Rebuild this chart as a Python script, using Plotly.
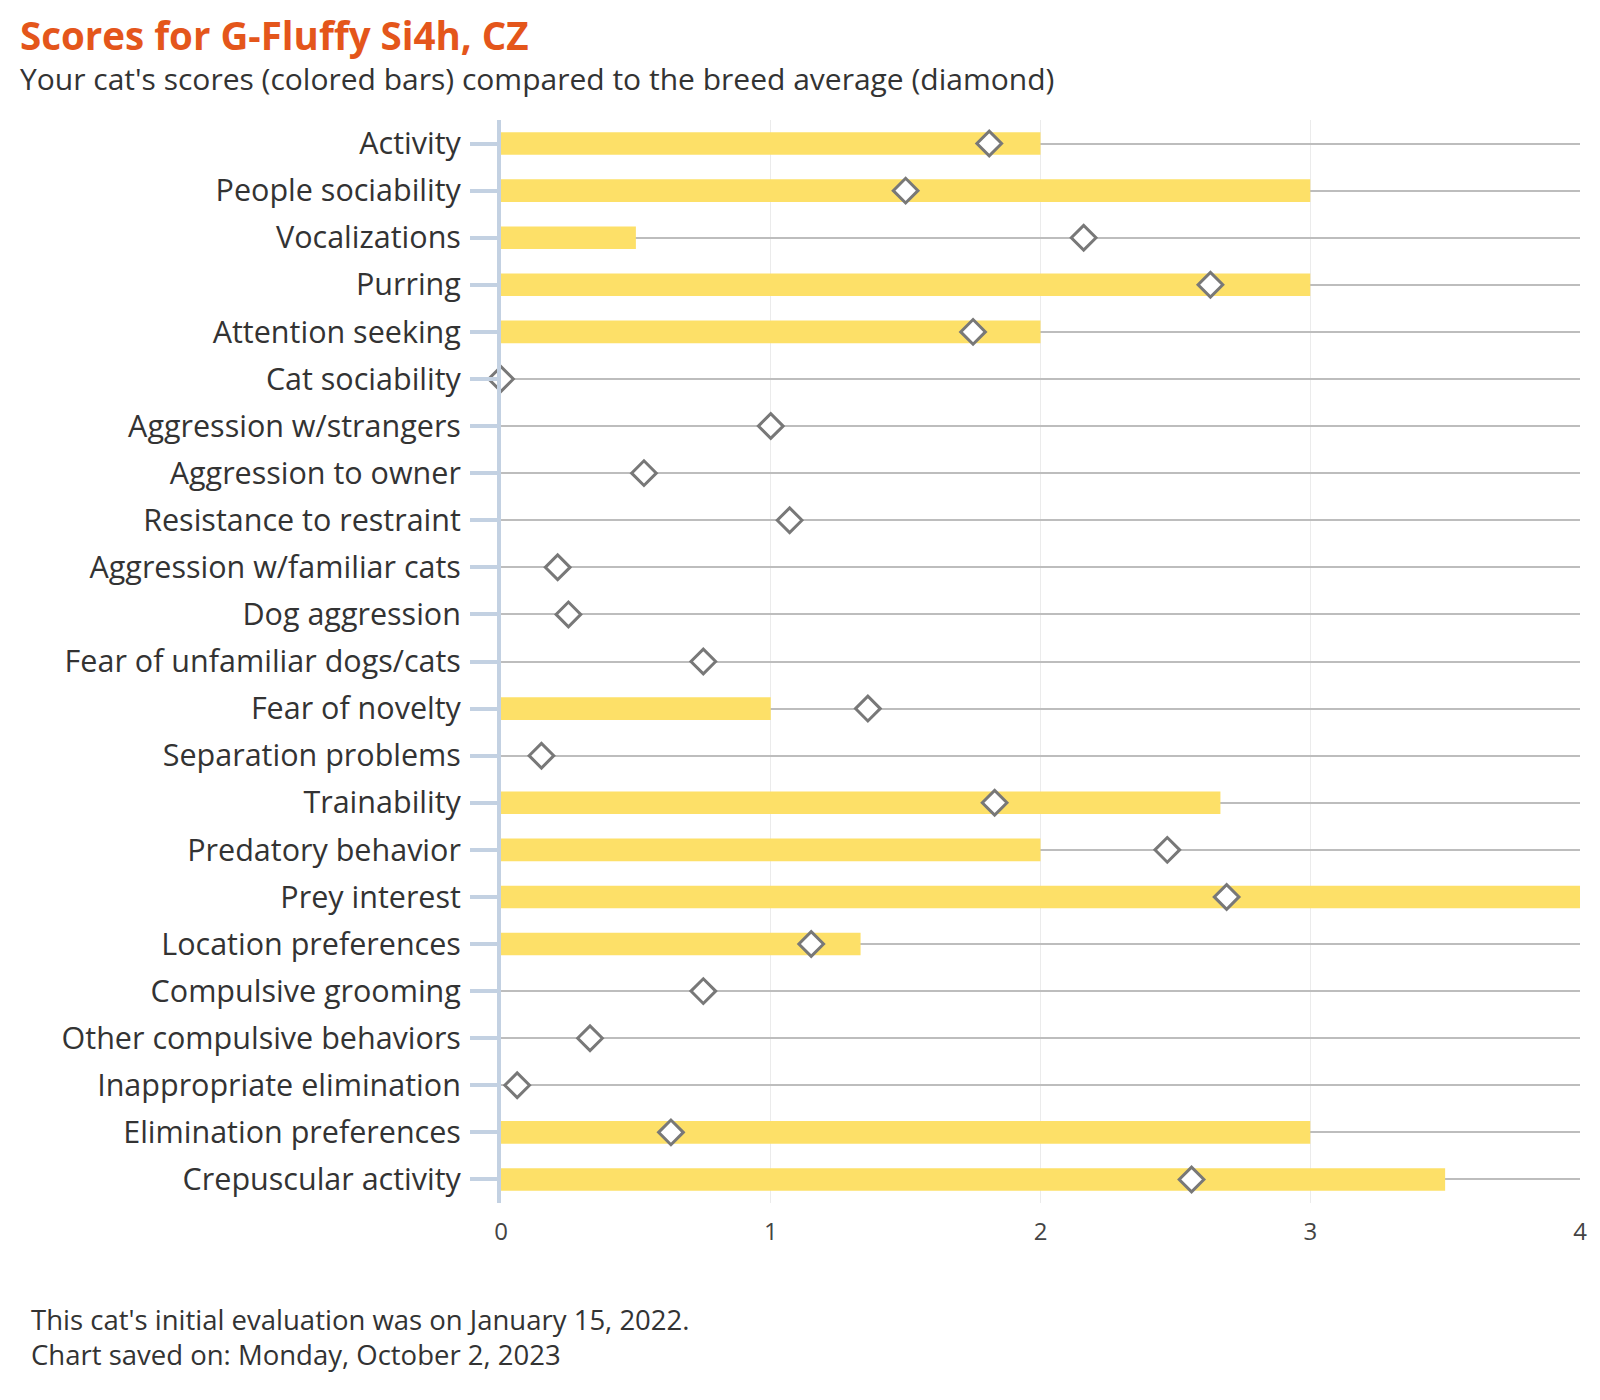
import plotly.graph_objects as go

categories = [
    "Activity", "People sociability", "Vocalizations", "Purring", "Attention seeking",
    "Cat sociability", "Aggression w/strangers", "Aggression to owner",
    "Resistance to restraint", "Aggression w/familiar cats", "Dog aggression",
    "Fear of unfamiliar dogs/cats", "Fear of novelty", "Separation problems",
    "Trainability", "Predatory behavior", "Prey interest", "Location preferences",
    "Compulsive grooming", "Other compulsive behaviors", "Inappropriate elimination",
    "Elimination preferences", "Crepuscular activity",
]
cat_scores = [2, 3, 0.5, 3, 2, 0, 0, 0, 0, 0, 0, 0, 1, 0, 2.667, 2, 4, 1.333, 0, 0, 0, 3, 3.5]
breed_avg = [1.81, 1.50, 2.16, 2.63, 1.75, 0.0, 1.0, 0.53, 1.07, 0.21, 0.25, 0.75, 1.36,
             0.15, 1.83, 2.47, 2.69, 1.15, 0.75, 0.33, 0.06, 0.63, 2.56]
x_ticks = [0, 1, 2, 3, 4]

title_text = "Scores for G-Fluffy Si4h, CZ"
subtitle_text = "Your cat's scores (colored bars) compared to the breed average (diamond)"
footer_lines = ["This cat's initial evaluation was on January 15, 2022.",
                "Chart saved on: Monday, October 2, 2023"]

W, H = 1600, 1400
L, R, T, B = 493, 28, 112, 205
pw, ph = W - L - R, H - T - B


def px(x):
    return (x - L) / pw


def py(y):
    return (H - B - y) / ph


FONT = "Open Sans"
TEXT = "#333333"

fig = go.Figure()
fig.add_bar(
    y=categories, x=cat_scores, orientation="h", width=0.48,
    marker=dict(color="#FDE068", line=dict(width=0)), hoverinfo="skip",
)
fig.add_scatter(
    y=categories, x=breed_avg, mode="markers", cliponaxis=False,
    marker=dict(symbol="diamond", size=19, color="white",
                line=dict(color="#787878", width=3)),
)

header = (f'<span style="font-size:38.5px;color:#E4561B"><b>{title_text}</b></span>'
          f'<br><span style="font-size:30px">{subtitle_text}</span>')
annotations = [
    dict(text=header, x=px(10), y=py(46), align="left",
         font=dict(size=31, color=TEXT, family=FONT)),
    dict(text=footer_lines[0], x=px(21), y=py(1311), font=dict(size=27.5, color=TEXT, family=FONT)),
    dict(text=footer_lines[1], x=px(21), y=py(1346), font=dict(size=27.5, color=TEXT, family=FONT)),
]
for a in annotations:
    a.update(xref="paper", yref="paper", xanchor="left", yanchor="middle", showarrow=False)

fig.update_layout(
    width=W, height=H,
    margin=dict(l=L, r=R, t=T, b=B, pad=0),
    plot_bgcolor="white", paper_bgcolor="white",
    showlegend=False,
    font=dict(family=FONT, color=TEXT),
    annotations=annotations,
    xaxis=dict(
        range=[0, 4], tickvals=x_ticks, showgrid=True, gridcolor="#EBEBEB", gridwidth=1,
        zeroline=False, showline=False, ticks="", ticklabelstandoff=12,
        tickfont=dict(size=24, color="#444444", family=FONT), fixedrange=True,
    ),
    yaxis=dict(
        categoryorder="array", categoryarray=categories, range=[len(categories) - 0.5, -0.5],
        showgrid=True, gridcolor="#BDBDBD", gridwidth=2,
        showline=True, linecolor="#C3D1E2", linewidth=4,
        ticks="outside", ticklen=27, tickwidth=4, tickcolor="#C3D1E2",
        ticklabelstandoff=3, zeroline=False,
        tickfont=dict(size=30.5, color=TEXT, family=FONT),
    ),
)

fig.write_html("out.html")
